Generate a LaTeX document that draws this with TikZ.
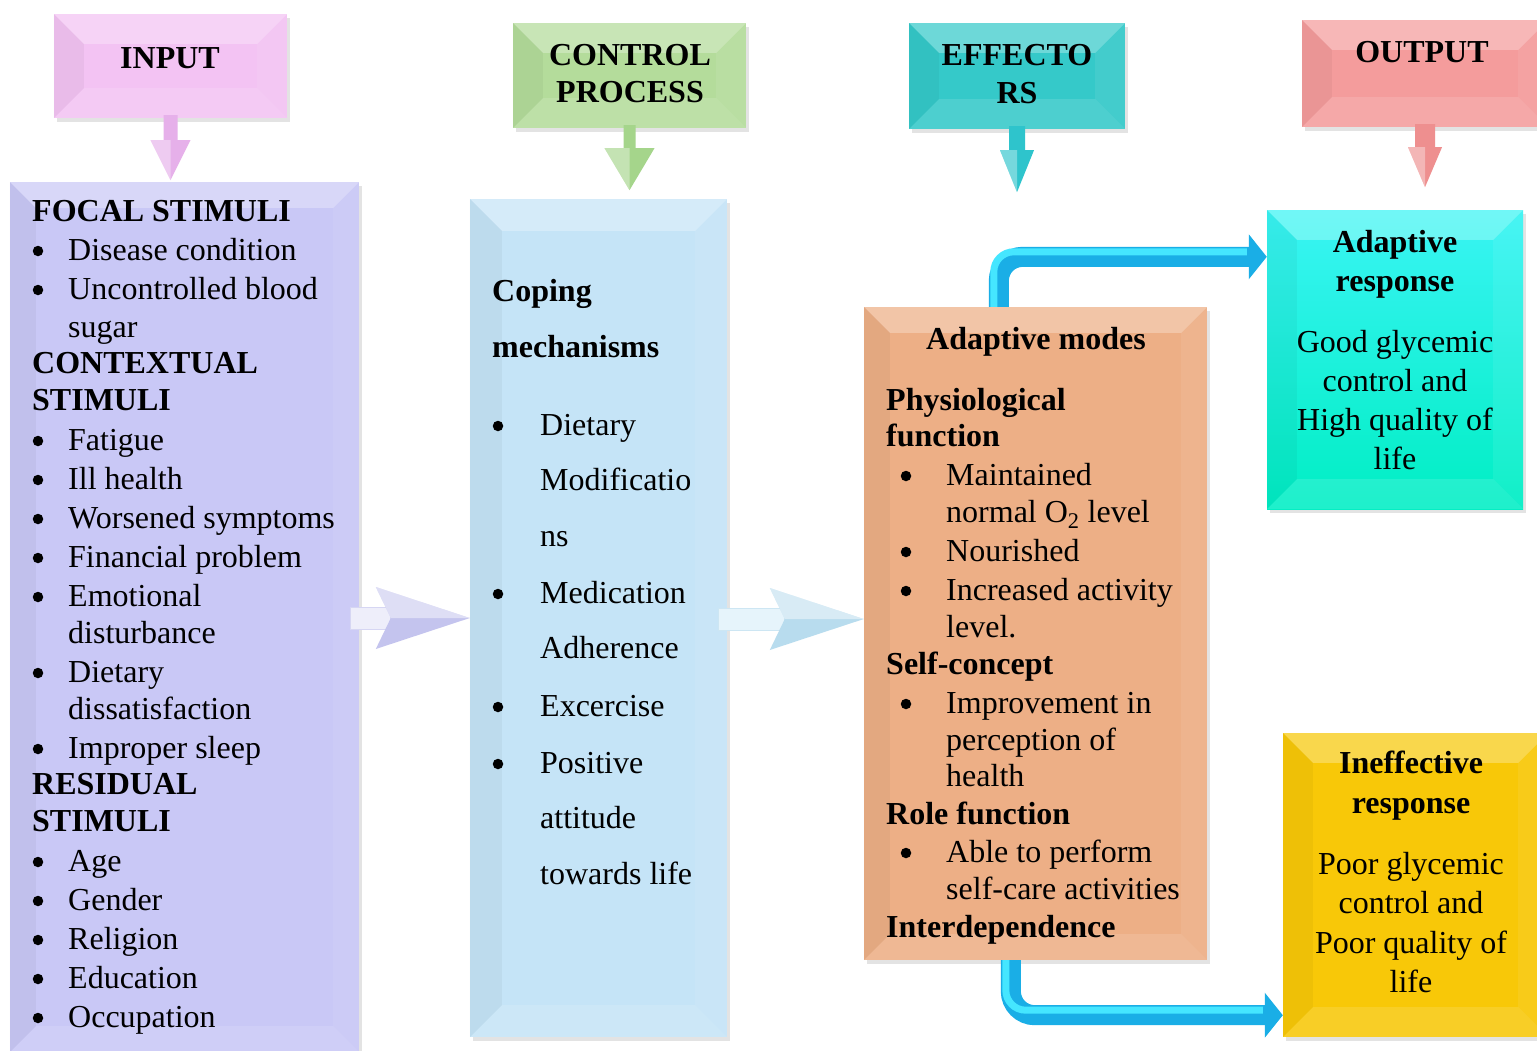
\documentclass[tikz,border=0pt]{standalone}
\usepackage{fontspec}
\setmainfont{Liberation Serif}
\usetikzlibrary{arrows.meta,calc,shadows}
\definecolor{cInput}{HTML}{F3C3F3}
\definecolor{cControl}{HTML}{B4DC9B}
\definecolor{cEffect}{HTML}{35C9C9}
\definecolor{cOutput}{HTML}{F49C9C}
\definecolor{cLeft}{HTML}{C9C8F6}
\definecolor{cMid}{HTML}{C5E4F7}
\definecolor{cModes}{HTML}{EDAF86}
\definecolor{cAdaptTop}{HTML}{3AF4F4}
\definecolor{cAdaptBot}{HTML}{00EEC4}
\definecolor{cIneff}{HTML}{F8C808}
\definecolor{cConn}{HTML}{1AAEE6}
\definecolor{cConnLight}{HTML}{45E6FF}
\definecolor{aInput}{HTML}{E6B0EA}
\definecolor{aControl}{HTML}{A5D58B}
\definecolor{aEffect}{HTML}{2EC4CC}
\definecolor{aOutput}{HTML}{EE8F8F}
\definecolor{aLavShaft}{HTML}{EEEEFA}
\definecolor{aLavHead}{HTML}{C4C4EE}
\definecolor{aBlueShaft}{HTML}{E6F4FB}
\definecolor{aBlueHead}{HTML}{B8DCEE}
\newcommand\fs{\fontsize{32}{38}\selectfont}
\newcommand\bevelbox[2]{%
  \fill[white,opacity=.28] (#1.north west) -- (#1.north east) -- ([shift={(-#2,#2)}]#1.north east) -- ([shift={(#2,#2)}]#1.north west) -- cycle;
  \fill[black,opacity=.04] (#1.north west) -- ([shift={(#2,#2)}]#1.north west) -- ([shift={(#2,-#2)}]#1.south west) -- (#1.south west) -- cycle;
  \fill[white,opacity=.07] (#1.north east) -- ([shift={(-#2,#2)}]#1.north east) -- ([shift={(-#2,-#2)}]#1.south east) -- (#1.south east) -- cycle;
  \fill[white,opacity=.12] (#1.south west) -- ([shift={(#2,-#2)}]#1.south west) -- ([shift={(-#2,-#2)}]#1.south east) -- (#1.south east) -- cycle;
}
% down block arrow: #1 node, #2 total length, #3 shaft half width, #4 head half width, #5 head length, #6 colour
\newcommand\dnarrow[6]{%
  \fill[#6] ([shift={(-#3,-3)}]#1.south) -- ++(0,{#2-#5}) -- ++({#3-#4},0) -- ++(#4,#5) -- ++(#4,-#5) -- ++({#3-#4},0) -- ++(0,{#5-#2}) -- cycle;
  \fill[white,opacity=.35] ([shift={(-#4,{#2-#5-3})}]#1.south) -- ++(#4,#5) -- ++(0,-#5) -- cycle;
}
% right block arrow: #1 from node, #2 to node, #3 shaft colour, #4 head colour
\newcommand\rtarrow[4]{%
  \path ([shift={(-9,1)}]#1.east) coordinate (rs) ([yshift=-1pt]#2.west |- #1.east) coordinate (rt);
  \fill[#3,draw=#4!70!white,line width=.8pt] ($(rs)+(0,-11)$) rectangle ($(rt)+(-79,11)$);
  \fill[#4] ($(rt)+(-94,-31)$) -- (rt) -- ($(rt)+(-94,31)$) -- ($(rt)+(-79,0)$) -- cycle;
  \fill[white,opacity=.45] ($(rt)+(-94,-31)$) -- (rt) -- ($(rt)+(-79,0)$) -- cycle;
}
\begin{document}
\begin{tikzpicture}[x=1pt,y=-1pt,
  box/.style={rectangle, inner sep=0pt, draw=none,
    drop shadow={opacity=0.22,shadow xshift=3pt,shadow yshift=-4pt}},
  hd/.style={anchor=base west, inner sep=0pt, font=\fs\bfseries},
  it/.style={anchor=base west, inner sep=0pt, font=\fs},
  chd/.style={anchor=base, inner sep=0pt, font=\fs\bfseries},
  cit/.style={anchor=base, inner sep=0pt, font=\fs},
  dot/.style={circle, fill=black, inner sep=0pt, minimum size=10.5pt},
  conn/.style={line width=20pt, draw=cConn, rounded corners=24pt, -{Triangle[length=18pt,width=44pt]}},
  connhi/.style={line width=7pt, draw=cConnLight, rounded corners=20pt}]
\useasboundingbox (0,0) rectangle (1537,1050);
\fill[white] (0,0) rectangle (1537,1050);
\clip (0,0) rectangle (1537,1050);

% header boxes
\node[box, fill=cInput,   minimum width=233pt, minimum height=104pt] (input)   at (170.5,66) {};
\node[box, fill=cControl, minimum width=233pt, minimum height=105pt] (control) at (629.5,75.5) {};
\node[box, fill=cEffect,  minimum width=216pt, minimum height=106pt] (effect)  at (1017,76) {};
\node[box, fill=cOutput,  minimum width=246pt, minimum height=107pt] (output)  at (1425,73.5) {};
% content boxes
\node[box, fill=cLeft,  minimum width=349pt, minimum height=870pt] (leftbox) at (184.5,617) {};
\node[box, fill=cMid,   minimum width=257pt, minimum height=838pt] (midbox)  at (598.5,618) {};
\node[box, fill=cModes, minimum width=343pt, minimum height=653pt] (modes)   at (1035.5,633.5) {};
\node[box, top color=cAdaptTop, bottom color=cAdaptBot, minimum width=256pt, minimum height=299pt] (adapt) at (1395,359.5) {};
\node[box, fill=cIneff, minimum width=265pt, minimum height=304pt] (ineff) at (1415.5,885) {};

\bevelbox{input}{30}
\bevelbox{control}{30}
\bevelbox{effect}{30}
\bevelbox{output}{30}
\bevelbox{leftbox}{26}
\bevelbox{midbox}{32}
\bevelbox{modes}{26}
\bevelbox{adapt}{30}
\bevelbox{ineff}{30}

% block arrows
\dnarrow{input}{65}{7}{20}{40}{aInput}
\dnarrow{control}{65}{6}{25}{42}{aControl}
\dnarrow{effect}{66}{8}{17}{42}{aEffect}
\dnarrow{output}{63}{10}{17}{40}{aOutput}
\rtarrow{leftbox}{midbox}{aLavShaft}{aLavHead}
\rtarrow{midbox}{modes}{aBlueShaft}{aBlueHead}

% elbow connectors
\draw[conn] ([xshift=135pt]modes.north west) |- ([yshift=-47pt]adapt.north west);
\draw[connhi, shorten >=20pt] ([xshift=130pt]modes.north west) |- ([yshift=-42pt]adapt.north west);
\draw[conn] ([xshift=147pt]modes.south west) |- ([yshift=22pt]ineff.south west);
\draw[connhi, shorten >=20pt] ([xshift=142pt]modes.south west) |- ([yshift=27pt]ineff.south west);

% header texts
\node[chd] (tInput) at (170,68) {INPUT};
\node[chd] (tControlA) at (630,65) {CONTROL};
\node[chd] (tControlB) at (630,102) {PROCESS};
\node[chd] (tEffectA) at (1017,65) {EFFECTO};
\node[chd] (tEffectB) at (1017,103) {RS};
\node[chd] (tOutput) at (1422,62) {OUTPUT};

% left box
\foreach \y/\t [count=\i] in {221/FOCAL STIMULI,373/CONTEXTUAL,410/STIMULI,794/RESIDUAL,831/STIMULI}
  \node[hd] (lh\i) at (32,\y) {\t};
\foreach \y/\t [count=\i] in {260/Disease condition,299/Uncontrolled blood,450/Fatigue,489/Ill health,
  528/Worsened symptoms,567/Financial problem,606/Emotional,682/Dietary,758/Improper sleep,
  871/Age,910/Gender,949/Religion,988/Education,1027/Occupation}
  {\node[it] (lb\i) at (68,\y) {\t}; \node[dot] (lbd\i) at (38,\y-9) {};}
\foreach \y/\t [count=\i] in {337/sugar,643/disturbance,719/dissatisfaction}
  \node[it] (lc\i) at (68,\y) {\t};

% middle box
\node[hd] (mh1) at (492,301) {Coping};
\node[hd] (mh2) at (492,357) {mechanisms};
\foreach \y/\t [count=\i] in {435/Dietary,603/Medication,716/Excercise,773/Positive}
  {\node[it] (mb\i) at (540,\y) {\t}; \node[dot] (mbd\i) at (498,\y-9) {};}
\foreach \y/\t [count=\i] in {490/Modificatio,546/ns,658/Adherence,828/attitude,884/towards life}
  \node[it] (mc\i) at (540,\y) {\t};

% adaptive modes box
\node[chd] (oTitle) at (1036,349) {Adaptive modes};
\foreach \y/\t [count=\i] in {410/Physiological,446/function,674/Self-concept,824/Role function,937/Interdependence}
  \node[hd] (oh\i) at (886,\y) {\t};
\foreach \y/\t [count=\i] in {485/Maintained,561/Nourished,600/Increased activity,713/Improvement in,862/Able to perform}
  {\node[it] (ob\i) at (946,\y) {\t}; \node[dot] (obd\i) at (906,\y-9) {};}
\foreach \y/\t [count=\i] in {522/normal O\textsubscript{2} level,637/level.,750/perception of,786/health,899/self-care activities}
  \node[it] (oc\i) at (946,\y) {\t};

% adaptive response
\node[chd] (ar1) at (1395,252) {Adaptive};
\node[chd] (ar2) at (1395,291) {response};
\foreach \y/\t [count=\i] in {352/Good glycemic,391/control and,430/High quality of,469/life}
  \node[cit] (ard\i) at (1395,\y) {\t};

% ineffective response
\node[chd] (ir1) at (1411,773) {Ineffective};
\node[chd] (ir2) at (1411,813) {response};
\foreach \y/\t [count=\i] in {874/Poor glycemic,913/control and,953/Poor quality of,992/life}
  \node[cit] (ird\i) at (1411,\y) {\t};
\end{tikzpicture}
\end{document}
